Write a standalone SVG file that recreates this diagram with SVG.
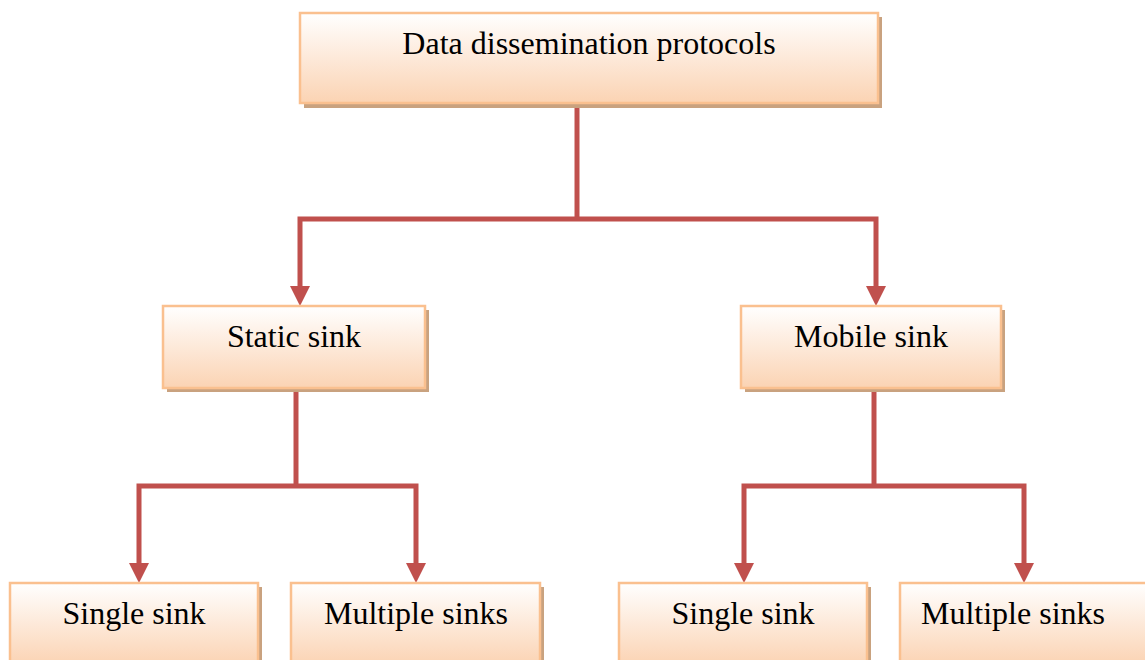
<svg xmlns="http://www.w3.org/2000/svg" width="1145" height="660" viewBox="0 0 1145 660">
<defs>
<linearGradient id="g" x1="0" y1="0" x2="0" y2="1">
<stop offset="0" stop-color="#ffffff"/>
<stop offset="1" stop-color="#fbd3b3"/>
</linearGradient>
</defs>
<style>
.sh{fill:#c9a27f}
.bx{fill:url(#g);stroke:#fac08f;stroke-width:2.5}
.t{font-family:"Liberation Serif","Times New Roman",serif;font-size:32px;fill:#000;text-anchor:middle}
.c{fill:none;stroke:#c0504d;stroke-width:5}
.a{fill:#c0504d}
</style>
<rect width="1145" height="660" fill="#fff"/>
<g id="connectors">
<polyline class="c" points="577,104 577,219"/>
<polyline class="c" points="300,286 300,219 876,219 876,286"/>
<path class="a" d="M290,286 L310,286 L300,306 Z"/>
<path class="a" d="M866,286 L886,286 L876,306 Z"/>
<polyline class="c" points="296,389 296,486"/>
<polyline class="c" points="139,563 139,486 416,486 416,563"/>
<path class="a" d="M129,563 L149,563 L139,583 Z"/>
<path class="a" d="M406,563 L426,563 L416,583 Z"/>
<polyline class="c" points="874,389 874,486"/>
<polyline class="c" points="744,563 744,486 1024,486 1024,563"/>
<path class="a" d="M734,563 L754,563 L744,583 Z"/>
<path class="a" d="M1014,563 L1034,563 L1024,583 Z"/>
</g>
<g id="n0">
<rect class="sh" x="304" y="17" width="578" height="91"/>
<rect class="bx" x="300" y="13" width="578" height="90"/>
<text class="t" x="589" y="54">Data dissemination protocols</text>
</g>
<g id="n1">
<rect class="sh" x="167" y="310" width="262" height="82"/>
<rect class="bx" x="163" y="306" width="262" height="82"/>
<text class="t" x="294" y="347">Static sink</text>
</g>
<g id="n2">
<rect class="sh" x="745" y="310" width="260" height="82"/>
<rect class="bx" x="741" y="306" width="260" height="82"/>
<text class="t" x="871" y="347">Mobile sink</text>
</g>
<g id="n3">
<rect class="sh" x="14" y="587" width="248" height="82"/>
<rect class="bx" x="10" y="583" width="248" height="82"/>
<text class="t" x="134" y="624">Single sink</text>
</g>
<g id="n4">
<rect class="sh" x="295" y="587" width="249" height="82"/>
<rect class="bx" x="291" y="583" width="249" height="82"/>
<text class="t" x="416" y="624">Multiple sinks</text>
</g>
<g id="n5">
<rect class="sh" x="623" y="587" width="248" height="82"/>
<rect class="bx" x="619" y="583" width="248" height="82"/>
<text class="t" x="743" y="624">Single sink</text>
</g>
<g id="n6">
<rect class="sh" x="904" y="587" width="248" height="82"/>
<rect class="bx" x="900" y="583" width="248" height="82"/>
<text class="t" x="1013" y="624">Multiple sinks</text>
</g>
</svg>
